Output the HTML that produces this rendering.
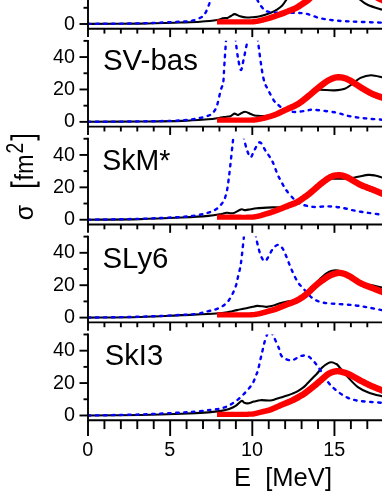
<!DOCTYPE html>
<html><head><meta charset="utf-8"><style>
html,body{margin:0;padding:0;background:#fff;}
body{width:382px;height:494px;overflow:hidden;position:relative;}
svg text{font-family:"Liberation Sans",sans-serif;fill:#000;}
#t{opacity:0.999}
</style></head><body>
<svg width="382" height="494" viewBox="0 0 382 494" style="position:absolute;left:0;top:0">
<rect width="382" height="494" fill="#fff"/>
<clipPath id="c0"><rect x="88.00" y="-57.00" width="300" height="85.80"/></clipPath>
<clipPath id="c1"><rect x="88.00" y="40.87" width="300" height="85.80"/></clipPath>
<clipPath id="c2"><rect x="88.00" y="138.74" width="300" height="85.80"/></clipPath>
<clipPath id="c3"><rect x="88.00" y="236.61" width="300" height="85.80"/></clipPath>
<clipPath id="c4"><rect x="88.00" y="334.48" width="300" height="85.80"/></clipPath>
<g clip-path="url(#c0)" fill="none" stroke-linejoin="round">
<path d="M88.00 23.90 C96.67 23.85 124.67 23.83 140.00 23.60 C155.33 23.37 170.00 22.82 180.00 22.50 C190.00 22.18 193.77 22.12 200.00 21.70 C206.23 21.28 213.62 20.55 217.40 20.00 C221.18 19.45 221.02 18.75 222.70 18.40 C224.38 18.05 226.12 18.30 227.50 17.90 C228.88 17.50 229.80 16.63 231.00 16.00 C232.20 15.37 233.20 14.07 234.70 14.10 C236.20 14.13 237.98 15.63 240.00 16.20 C242.02 16.77 244.63 17.33 246.80 17.50 C248.97 17.67 250.80 17.40 253.00 17.20 C255.20 17.00 257.03 17.03 260.00 16.30 C262.97 15.57 267.97 13.92 270.80 12.80 C273.63 11.68 275.13 10.77 277.00 9.60 C278.87 8.43 280.47 7.40 282.00 5.80 C283.53 4.20 284.87 1.97 286.20 0.00 C287.53 -1.97 289.37 -5.00 290.00 -6.00" stroke="#000" stroke-width="2.1"/>
<path d="M355.50 -6.00 C356.33 -5.00 358.42 -1.83 360.50 0.00 C362.58 1.83 364.42 3.40 368.00 5.00 C371.58 6.60 379.00 8.67 382.00 9.60 C385.00 10.53 385.33 10.43 386.00 10.60" stroke="#000" stroke-width="2.1"/>
<path d="M88.00 23.90 C96.67 23.80 124.67 23.67 140.00 23.30 C155.33 22.93 171.33 22.12 180.00 21.70 C188.67 21.28 188.52 21.50 192.00 20.80 C195.48 20.10 198.90 18.53 200.90 17.50 C202.90 16.47 203.12 15.60 204.00 14.60 C204.88 13.60 205.40 13.07 206.20 11.50 C207.00 9.93 208.10 7.12 208.80 5.20 C209.50 3.28 209.87 1.87 210.40 0.00 C210.93 -1.87 211.73 -5.00 212.00 -6.00" stroke="#0000ff" stroke-linecap="round" stroke-width="2.4" stroke-dasharray="2.5 5.5" stroke-dashoffset="0"/>
<path d="M254.00 -8.00 C254.57 -6.67 256.23 -2.33 257.40 0.00 C258.57 2.33 259.67 4.22 261.00 6.00 C262.33 7.78 263.57 9.62 265.40 10.70 C267.23 11.78 269.57 12.15 272.00 12.50 C274.43 12.85 276.00 12.75 280.00 12.80 C284.00 12.85 291.55 12.62 296.00 12.80 C300.45 12.98 302.70 13.00 306.70 13.90 C310.70 14.80 315.55 17.13 320.00 18.20 C324.45 19.27 329.23 19.80 333.40 20.30 C337.57 20.80 340.57 20.93 345.00 21.20 C349.43 21.47 353.83 21.65 360.00 21.90 C366.17 22.15 377.67 22.55 382.00 22.70 C386.33 22.85 385.33 22.78 386.00 22.80" stroke="#0000ff" stroke-linecap="round" stroke-width="2.4" stroke-dasharray="2.5 5.5" stroke-dashoffset="0"/>
<path d="M217.00 24.50 L217.88 24.50 L218.99 24.50 L220.30 24.50 L221.78 24.50 L223.38 24.50 L225.06 24.50 L226.80 24.50 L228.56 24.50 L230.29 24.50 L231.97 24.50 L233.55 24.50 L235.00 24.50 L236.38 24.50 L237.77 24.51 L239.16 24.51 L240.54 24.52 L241.91 24.53 L243.24 24.53 L244.53 24.54 L245.78 24.55 L246.96 24.56 L248.08 24.56 L249.11 24.56 L250.06 24.55 L250.91 24.54 L251.66 24.52 L252.33 24.49 L252.93 24.46 L253.47 24.42 L253.96 24.38 L254.41 24.34 L254.83 24.29 L255.22 24.24 L255.59 24.19 L255.97 24.14 L256.36 24.10 L256.77 24.05 L257.16 23.99 L257.52 23.94 L257.86 23.88 L258.18 23.83 L258.50 23.76 L258.82 23.70 L259.14 23.63 L259.47 23.55 L259.82 23.47 L260.21 23.39 L260.64 23.29 L261.12 23.18 L261.65 23.06 L262.21 22.93 L262.80 22.79 L263.41 22.65 L264.03 22.50 L264.67 22.34 L265.31 22.18 L265.94 22.02 L266.57 21.86 L267.19 21.69 L267.79 21.53 L268.36 21.37 L268.91 21.21 L269.45 21.05 L269.99 20.89 L270.52 20.73 L271.05 20.56 L271.58 20.40 L272.12 20.22 L272.67 20.04 L273.24 19.85 L273.84 19.66 L274.46 19.45 L275.11 19.23 L275.79 19.00 L276.49 18.76 L277.20 18.51 L277.93 18.25 L278.67 17.99 L279.42 17.72 L280.16 17.46 L280.90 17.19 L281.63 16.93 L282.35 16.67 L283.06 16.41 L283.76 16.16 L284.46 15.90 L285.16 15.64 L285.87 15.38 L286.57 15.12 L287.26 14.86 L287.94 14.60 L288.62 14.34 L289.28 14.09 L289.92 13.84 L290.54 13.60 L291.14 13.37 L291.70 13.16 L292.23 12.96 L292.75 12.77 L293.26 12.58 L293.76 12.39 L294.27 12.20 L294.78 12.00 L295.30 11.79 L295.82 11.57 L296.36 11.33 L296.91 11.07 L297.47 10.79 L298.03 10.50 L298.59 10.19 L299.14 9.87 L299.68 9.54 L300.21 9.21 L300.74 8.88 L301.26 8.54 L301.78 8.20 L302.29 7.86 L302.79 7.53 L303.28 7.19 L303.77 6.86 L304.27 6.54 L304.77 6.21 L305.28 5.87 L305.80 5.53 L306.33 5.18 L306.86 4.82 L307.39 4.46 L307.93 4.08 L308.47 3.69 L309.00 3.29 L309.53 2.88 L310.06 2.45 L310.60 1.99 L311.13 1.49 L311.67 0.99 L312.19 0.47 L312.69 -0.04 L313.18 -0.54 L313.64 -1.03 L314.07 -1.48 L314.46 -1.89 L314.79 -2.25 L315.07 -2.54 L315.29 -2.76 L310.71 -7.24 L310.46 -6.97 L310.14 -6.65 L309.79 -6.28 L309.41 -5.87 L309.00 -5.43 L308.57 -4.98 L308.12 -4.52 L307.66 -4.06 L307.21 -3.61 L306.76 -3.18 L306.34 -2.79 L305.94 -2.45 L305.54 -2.12 L305.12 -1.79 L304.68 -1.46 L304.22 -1.13 L303.75 -0.80 L303.27 -0.47 L302.77 -0.14 L302.27 0.19 L301.77 0.52 L301.26 0.86 L300.74 1.20 L300.23 1.54 L299.72 1.88 L299.21 2.22 L298.71 2.55 L298.22 2.88 L297.74 3.21 L297.26 3.53 L296.79 3.85 L296.32 4.15 L295.86 4.43 L295.41 4.71 L294.97 4.96 L294.53 5.21 L294.11 5.43 L293.69 5.64 L293.27 5.83 L292.85 6.02 L292.42 6.20 L291.98 6.39 L291.52 6.57 L291.04 6.76 L290.53 6.96 L290.00 7.17 L289.44 7.39 L288.86 7.63 L288.27 7.87 L287.66 8.12 L287.03 8.38 L286.38 8.64 L285.72 8.90 L285.05 9.17 L284.38 9.44 L283.69 9.71 L283.00 9.98 L282.31 10.25 L281.63 10.52 L280.94 10.79 L280.25 11.06 L279.54 11.33 L278.83 11.60 L278.10 11.88 L277.37 12.16 L276.64 12.44 L275.92 12.71 L275.20 12.98 L274.51 13.23 L273.83 13.48 L273.17 13.72 L272.54 13.95 L271.94 14.17 L271.37 14.37 L270.82 14.56 L270.29 14.75 L269.77 14.93 L269.27 15.10 L268.77 15.26 L268.27 15.43 L267.77 15.59 L267.27 15.75 L266.75 15.91 L266.21 16.07 L265.66 16.24 L265.08 16.40 L264.49 16.57 L263.88 16.74 L263.27 16.90 L262.65 17.07 L262.05 17.23 L261.46 17.38 L260.89 17.53 L260.35 17.66 L259.84 17.79 L259.36 17.91 L258.93 18.02 L258.54 18.12 L258.20 18.20 L257.90 18.28 L257.63 18.34 L257.37 18.40 L257.13 18.45 L256.88 18.50 L256.62 18.55 L256.34 18.60 L256.02 18.65 L255.64 18.70 L255.23 18.76 L254.85 18.82 L254.48 18.88 L254.14 18.93 L253.78 18.97 L253.41 19.02 L253.01 19.06 L252.55 19.10 L252.03 19.14 L251.43 19.18 L250.73 19.21 L249.94 19.25 L249.04 19.27 L248.03 19.30 L246.94 19.31 L245.78 19.33 L244.55 19.34 L243.26 19.33 L241.93 19.33 L240.57 19.32 L239.18 19.31 L237.79 19.31 L236.39 19.30 L235.00 19.30 L233.55 19.30 L231.97 19.30 L230.29 19.30 L228.56 19.30 L226.80 19.30 L225.06 19.30 L223.38 19.30 L221.78 19.30 L220.30 19.30 L218.99 19.30 L217.88 19.30 L217.00 19.30Z" fill="#ff0000" stroke="none"/>
<path d="M372.57 -1.14 L372.97 -0.94 L373.49 -0.68 L374.10 -0.37 L374.79 -0.03 L375.54 0.35 L376.32 0.74 L377.11 1.13 L377.90 1.53 L378.66 1.91 L379.37 2.26 L380.02 2.59 L380.57 2.86 L381.06 3.11 L381.51 3.33 L381.94 3.55 L382.35 3.75 L382.72 3.94 L383.07 4.11 L383.39 4.27 L383.68 4.42 L383.94 4.55 L384.18 4.67 L384.39 4.77 L384.57 4.86 L387.43 -0.86 L387.25 -0.95 L387.04 -1.06 L386.81 -1.17 L386.54 -1.31 L386.25 -1.45 L385.93 -1.61 L385.58 -1.79 L385.21 -1.97 L384.81 -2.17 L384.38 -2.39 L383.92 -2.62 L383.43 -2.86 L382.88 -3.14 L382.24 -3.46 L381.52 -3.82 L380.76 -4.20 L379.98 -4.59 L379.18 -4.99 L378.40 -5.38 L377.65 -5.75 L376.96 -6.10 L376.35 -6.40 L375.83 -6.66 L375.43 -6.86Z" fill="#ff0000" stroke="none"/>
</g>
<g stroke="#000" stroke-width="1.90" fill="none">
<line x1="88.00" y1="0.00" x2="88.00" y2="29.75"/>
<line x1="88.00" y1="28.80" x2="382" y2="28.80"/>
<line x1="79.50" y1="24.00" x2="88.00" y2="24.00"/>
<line x1="83.50" y1="7.80" x2="88.00" y2="7.80"/>
<line x1="88.00" y1="28.80" x2="88.00" y2="37.10"/>
<line x1="104.43" y1="28.80" x2="104.43" y2="33.60"/>
<line x1="120.86" y1="28.80" x2="120.86" y2="33.60"/>
<line x1="137.29" y1="28.80" x2="137.29" y2="33.60"/>
<line x1="153.72" y1="28.80" x2="153.72" y2="33.60"/>
<line x1="170.15" y1="28.80" x2="170.15" y2="37.10"/>
<line x1="186.58" y1="28.80" x2="186.58" y2="33.60"/>
<line x1="203.01" y1="28.80" x2="203.01" y2="33.60"/>
<line x1="219.44" y1="28.80" x2="219.44" y2="33.60"/>
<line x1="235.87" y1="28.80" x2="235.87" y2="33.60"/>
<line x1="252.30" y1="28.80" x2="252.30" y2="37.10"/>
<line x1="268.73" y1="28.80" x2="268.73" y2="33.60"/>
<line x1="285.16" y1="28.80" x2="285.16" y2="33.60"/>
<line x1="301.59" y1="28.80" x2="301.59" y2="33.60"/>
<line x1="318.02" y1="28.80" x2="318.02" y2="33.60"/>
<line x1="334.45" y1="28.80" x2="334.45" y2="37.10"/>
<line x1="350.88" y1="28.80" x2="350.88" y2="33.60"/>
<line x1="367.31" y1="28.80" x2="367.31" y2="33.60"/>
</g>
<g clip-path="url(#c1)" fill="none" stroke-linejoin="round">
<path d="M88.00 121.80 C96.67 121.75 124.33 121.65 140.00 121.50 C155.67 121.35 170.63 121.27 182.00 120.90 C193.37 120.53 202.37 119.73 208.20 119.30 C214.03 118.87 214.38 118.68 217.00 118.30 C219.62 117.92 221.67 117.35 223.90 117.00 C226.13 116.65 228.65 116.77 230.40 116.20 C232.15 115.63 233.08 113.82 234.40 113.60 C235.72 113.38 236.57 115.22 238.30 114.90 C240.03 114.58 242.62 111.80 244.80 111.70 C246.98 111.60 249.43 113.63 251.40 114.30 C253.37 114.97 253.50 115.50 256.60 115.70 C259.70 115.90 265.27 116.45 270.00 115.50 C274.73 114.55 280.00 112.17 285.00 110.00 C290.00 107.83 295.83 105.00 300.00 102.50 C304.17 100.00 307.33 96.95 310.00 95.00 C312.67 93.05 314.33 91.67 316.00 90.80 C317.67 89.93 316.93 89.87 320.00 89.80 C323.07 89.73 330.27 90.57 334.40 90.40 C338.53 90.23 341.75 89.93 344.80 88.80 C347.85 87.67 350.08 85.42 352.70 83.60 C355.32 81.78 357.45 79.30 360.50 77.90 C363.55 76.50 367.42 75.30 371.00 75.20 C374.58 75.10 379.50 76.75 382.00 77.30 C384.50 77.85 385.33 78.30 386.00 78.50" stroke="#000" stroke-width="2.1"/>
<path d="M88.00 121.80 C96.67 121.73 124.33 121.63 140.00 121.40 C155.67 121.17 171.97 120.98 182.00 120.40 C192.03 119.82 195.77 118.70 200.20 117.90 C204.63 117.10 206.63 116.32 208.60 115.60 C210.57 114.88 210.97 114.47 212.00 113.60 C213.03 112.73 214.03 111.58 214.80 110.40 C215.57 109.22 216.07 107.90 216.60 106.50 C217.13 105.10 217.45 104.15 218.00 102.00 C218.55 99.85 219.30 96.00 219.90 93.60 C220.50 91.20 221.12 89.03 221.60 87.60 C222.08 86.17 222.48 86.27 222.80 85.00 C223.12 83.73 223.23 83.47 223.50 80.00 C223.77 76.53 223.98 70.77 224.40 64.20 C224.82 57.63 225.62 46.30 226.00 40.60 C226.38 34.90 226.58 31.77 226.70 30.00" stroke="#0000ff" stroke-linecap="round" stroke-width="2.4" stroke-dasharray="2.5 5.5" stroke-dashoffset="0"/>
<path d="M235.00 30.00 C235.12 31.77 235.20 35.93 235.70 40.60 C236.20 45.27 237.13 53.12 238.00 58.00 C238.87 62.88 239.98 69.57 240.90 69.90 C241.82 70.23 242.42 64.88 243.50 60.00 C244.58 55.12 246.57 45.60 247.40 40.60 C248.23 35.60 248.32 31.77 248.50 30.00" stroke="#0000ff" stroke-linecap="round" stroke-width="2.4" stroke-dasharray="2.5 5.5" stroke-dashoffset="0"/>
<path d="M257.00 30.00 C257.15 31.77 256.87 32.72 257.90 40.60 C258.93 48.48 261.45 69.00 263.20 77.30 C264.95 85.60 266.58 86.48 268.40 90.40 C270.22 94.32 272.67 98.62 274.10 100.80 C275.53 102.98 276.08 102.62 277.00 103.50 C277.92 104.38 278.43 105.13 279.60 106.10 C280.77 107.07 282.25 108.42 284.00 109.30 C285.75 110.18 288.03 110.97 290.10 111.40 C292.17 111.83 293.75 112.00 296.40 111.90 C299.05 111.80 303.17 111.15 306.00 110.80 C308.83 110.45 308.67 109.55 313.40 109.80 C318.13 110.05 328.30 111.22 334.40 112.30 C340.50 113.38 344.77 115.28 350.00 116.30 C355.23 117.32 360.47 117.83 365.80 118.40 C371.13 118.97 378.63 119.45 382.00 119.70 C385.37 119.95 385.33 119.87 386.00 119.90" stroke="#0000ff" stroke-linecap="round" stroke-width="2.4" stroke-dasharray="2.5 5.5" stroke-dashoffset="0"/>
<path d="M217.00 122.70 L217.87 122.70 L218.96 122.70 L220.24 122.70 L221.68 122.70 L223.24 122.71 L224.89 122.71 L226.61 122.71 L228.36 122.71 L230.10 122.71 L231.81 122.71 L233.46 122.70 L235.01 122.70 L236.53 122.70 L238.13 122.69 L239.77 122.69 L241.43 122.69 L243.08 122.68 L244.72 122.67 L246.30 122.68 L247.82 122.69 L249.25 122.69 L250.56 122.70 L251.74 122.69 L252.76 122.68 L253.60 122.67 L254.28 122.66 L254.84 122.64 L255.29 122.61 L255.68 122.58 L256.02 122.55 L256.33 122.50 L256.58 122.45 L256.77 122.41 L256.93 122.38 L257.13 122.34 L257.43 122.30 L257.83 122.24 L258.25 122.17 L258.68 122.10 L259.11 122.03 L259.54 121.95 L259.98 121.86 L260.42 121.78 L260.86 121.69 L261.30 121.60 L261.74 121.51 L262.18 121.41 L262.63 121.31 L263.08 121.21 L263.55 121.11 L264.02 121.00 L264.49 120.88 L264.96 120.77 L265.44 120.65 L265.91 120.53 L266.38 120.41 L266.84 120.29 L267.29 120.17 L267.74 120.05 L268.17 119.94 L268.59 119.82 L269.01 119.71 L269.42 119.60 L269.82 119.48 L270.22 119.37 L270.61 119.25 L271.00 119.14 L271.39 119.02 L271.77 118.90 L272.15 118.79 L272.53 118.67 L272.90 118.55 L273.26 118.44 L273.60 118.33 L273.94 118.22 L274.28 118.11 L274.63 118.00 L274.98 117.89 L275.34 117.77 L275.70 117.64 L276.09 117.50 L276.49 117.35 L276.90 117.19 L277.34 117.01 L277.80 116.82 L278.29 116.61 L278.78 116.39 L279.29 116.16 L279.80 115.93 L280.32 115.69 L280.84 115.45 L281.35 115.21 L281.86 114.98 L282.35 114.75 L282.83 114.53 L283.29 114.31 L283.73 114.11 L284.16 113.91 L284.56 113.72 L284.94 113.53 L285.32 113.35 L285.69 113.18 L286.07 113.00 L286.45 112.81 L286.86 112.62 L287.29 112.42 L287.76 112.21 L288.27 111.98 L288.82 111.74 L289.42 111.49 L290.07 111.21 L290.76 110.93 L291.48 110.63 L292.22 110.33 L292.96 110.01 L293.71 109.70 L294.45 109.38 L295.17 109.05 L295.87 108.73 L296.53 108.40 L297.13 108.10 L297.69 107.80 L298.23 107.52 L298.75 107.23 L299.26 106.94 L299.76 106.64 L300.26 106.34 L300.76 106.03 L301.26 105.70 L301.77 105.36 L302.30 105.00 L302.86 104.61 L303.45 104.18 L304.05 103.73 L304.67 103.26 L305.29 102.78 L305.92 102.29 L306.55 101.78 L307.18 101.28 L307.80 100.77 L308.43 100.26 L309.04 99.75 L309.64 99.26 L310.24 98.77 L310.83 98.28 L311.43 97.78 L312.02 97.28 L312.60 96.78 L313.18 96.28 L313.75 95.78 L314.32 95.29 L314.88 94.81 L315.43 94.33 L315.98 93.86 L316.51 93.41 L317.05 92.96 L317.59 92.51 L318.12 92.07 L318.65 91.63 L319.17 91.20 L319.69 90.77 L320.20 90.36 L320.71 89.94 L321.21 89.53 L321.72 89.13 L322.22 88.73 L322.73 88.34 L323.25 87.94 L323.78 87.54 L324.31 87.13 L324.85 86.72 L325.39 86.31 L325.92 85.91 L326.45 85.52 L326.97 85.14 L327.49 84.78 L327.98 84.43 L328.46 84.11 L328.92 83.81 L329.36 83.53 L329.79 83.28 L330.21 83.04 L330.62 82.82 L331.02 82.61 L331.42 82.41 L331.81 82.23 L332.19 82.06 L332.57 81.89 L332.95 81.74 L333.33 81.59 L333.70 81.45 L334.08 81.31 L334.45 81.18 L334.79 81.06 L335.11 80.96 L335.41 80.87 L335.68 80.79 L335.95 80.73 L336.21 80.67 L336.47 80.62 L336.73 80.58 L337.02 80.54 L337.32 80.52 L337.66 80.50 L338.04 80.48 L338.44 80.47 L338.85 80.47 L339.26 80.47 L339.68 80.49 L340.10 80.51 L340.52 80.55 L340.94 80.59 L341.36 80.65 L341.78 80.72 L342.19 80.80 L342.62 80.90 L343.06 81.02 L343.51 81.15 L343.95 81.29 L344.39 81.44 L344.84 81.60 L345.30 81.78 L345.77 81.98 L346.26 82.20 L346.77 82.44 L347.31 82.70 L347.88 83.00 L348.46 83.31 L349.08 83.65 L349.74 84.04 L350.46 84.48 L351.20 84.96 L351.98 85.46 L352.77 85.98 L353.57 86.51 L354.37 87.04 L355.16 87.56 L355.93 88.07 L356.68 88.56 L357.39 89.01 L358.05 89.42 L358.67 89.81 L359.27 90.18 L359.84 90.54 L360.41 90.89 L360.97 91.24 L361.52 91.58 L362.08 91.92 L362.64 92.25 L363.22 92.59 L363.81 92.94 L364.42 93.28 L365.03 93.63 L365.64 93.97 L366.26 94.33 L366.89 94.68 L367.53 95.04 L368.19 95.39 L368.85 95.74 L369.52 96.09 L370.20 96.44 L370.90 96.78 L371.60 97.11 L372.32 97.43 L373.07 97.75 L373.85 98.06 L374.64 98.36 L375.43 98.64 L376.22 98.92 L377.00 99.19 L377.76 99.44 L378.49 99.68 L379.18 99.91 L379.82 100.13 L380.40 100.33 L380.92 100.51 L381.40 100.69 L381.86 100.86 L382.29 101.01 L382.68 101.16 L383.05 101.30 L383.39 101.43 L383.70 101.55 L383.98 101.66 L384.24 101.75 L384.47 101.84 L384.69 101.92 L384.87 101.99 L387.13 96.01 L386.96 95.94 L386.76 95.86 L386.53 95.78 L386.27 95.68 L385.98 95.57 L385.66 95.45 L385.31 95.31 L384.93 95.17 L384.52 95.02 L384.08 94.85 L383.60 94.68 L383.08 94.49 L382.50 94.28 L381.87 94.07 L381.20 93.84 L380.51 93.61 L379.79 93.37 L379.05 93.13 L378.31 92.87 L377.58 92.62 L376.86 92.35 L376.16 92.09 L375.50 91.83 L374.88 91.57 L374.27 91.29 L373.66 91.01 L373.05 90.71 L372.44 90.40 L371.83 90.08 L371.23 89.76 L370.62 89.43 L370.01 89.09 L369.40 88.75 L368.79 88.41 L368.18 88.06 L367.58 87.72 L367.00 87.39 L366.45 87.07 L365.91 86.75 L365.38 86.43 L364.85 86.11 L364.32 85.79 L363.78 85.45 L363.23 85.11 L362.66 84.75 L362.07 84.38 L361.45 83.99 L360.81 83.59 L360.14 83.17 L359.43 82.71 L358.68 82.22 L357.91 81.70 L357.11 81.17 L356.29 80.63 L355.47 80.10 L354.66 79.57 L353.85 79.06 L353.05 78.57 L352.28 78.11 L351.54 77.69 L350.84 77.32 L350.18 76.99 L349.54 76.67 L348.92 76.38 L348.31 76.11 L347.70 75.85 L347.11 75.62 L346.52 75.40 L345.94 75.21 L345.36 75.02 L344.78 74.86 L344.18 74.70 L343.56 74.55 L342.94 74.43 L342.33 74.32 L341.72 74.24 L341.12 74.17 L340.54 74.13 L339.97 74.09 L339.41 74.07 L338.87 74.07 L338.34 74.07 L337.84 74.08 L337.34 74.10 L336.84 74.14 L336.34 74.18 L335.86 74.24 L335.39 74.31 L334.93 74.40 L334.48 74.50 L334.04 74.61 L333.61 74.73 L333.19 74.86 L332.77 74.99 L332.35 75.14 L331.92 75.29 L331.48 75.45 L331.02 75.62 L330.56 75.80 L330.09 75.99 L329.61 76.20 L329.13 76.42 L328.63 76.65 L328.13 76.90 L327.62 77.17 L327.10 77.45 L326.58 77.75 L326.04 78.07 L325.49 78.41 L324.93 78.77 L324.37 79.15 L323.80 79.54 L323.24 79.94 L322.67 80.36 L322.11 80.77 L321.54 81.19 L320.99 81.62 L320.43 82.03 L319.89 82.45 L319.35 82.86 L318.81 83.28 L318.28 83.69 L317.74 84.12 L317.21 84.54 L316.68 84.97 L316.15 85.39 L315.63 85.83 L315.10 86.26 L314.57 86.70 L314.03 87.14 L313.50 87.59 L312.95 88.04 L312.39 88.51 L311.82 88.99 L311.26 89.48 L310.69 89.96 L310.13 90.45 L309.56 90.94 L309.00 91.43 L308.43 91.92 L307.86 92.41 L307.30 92.89 L306.73 93.36 L306.16 93.83 L305.58 94.31 L304.98 94.81 L304.37 95.31 L303.76 95.81 L303.15 96.30 L302.54 96.79 L301.94 97.27 L301.35 97.74 L300.77 98.19 L300.21 98.61 L299.66 99.02 L299.14 99.39 L298.64 99.75 L298.16 100.08 L297.71 100.39 L297.28 100.68 L296.86 100.96 L296.45 101.22 L296.03 101.47 L295.61 101.73 L295.17 101.98 L294.70 102.24 L294.20 102.52 L293.67 102.80 L293.12 103.08 L292.51 103.38 L291.87 103.68 L291.19 103.99 L290.49 104.31 L289.77 104.62 L289.05 104.94 L288.34 105.25 L287.65 105.55 L286.97 105.85 L286.33 106.14 L285.73 106.42 L285.19 106.67 L284.70 106.91 L284.24 107.13 L283.81 107.34 L283.41 107.54 L283.02 107.74 L282.65 107.92 L282.28 108.11 L281.91 108.30 L281.53 108.48 L281.14 108.68 L280.71 108.89 L280.25 109.11 L279.77 109.35 L279.28 109.59 L278.78 109.83 L278.28 110.08 L277.78 110.32 L277.28 110.56 L276.80 110.79 L276.33 111.01 L275.88 111.22 L275.46 111.42 L275.06 111.59 L274.69 111.75 L274.34 111.89 L274.01 112.02 L273.69 112.15 L273.38 112.26 L273.07 112.37 L272.77 112.48 L272.46 112.59 L272.14 112.70 L271.81 112.81 L271.46 112.93 L271.10 113.05 L270.74 113.17 L270.38 113.29 L270.02 113.41 L269.67 113.53 L269.30 113.64 L268.94 113.76 L268.57 113.88 L268.19 113.99 L267.81 114.11 L267.43 114.23 L267.03 114.34 L266.63 114.46 L266.22 114.58 L265.79 114.70 L265.36 114.83 L264.91 114.95 L264.46 115.08 L264.01 115.20 L263.56 115.32 L263.11 115.44 L262.67 115.56 L262.23 115.67 L261.79 115.78 L261.37 115.89 L260.95 115.99 L260.53 116.09 L260.11 116.19 L259.70 116.28 L259.29 116.37 L258.88 116.46 L258.48 116.54 L258.09 116.63 L257.70 116.70 L257.32 116.77 L256.95 116.84 L256.57 116.90 L256.19 116.97 L255.86 117.03 L255.61 117.09 L255.44 117.13 L255.35 117.15 L255.27 117.17 L255.13 117.19 L254.91 117.21 L254.56 117.23 L254.08 117.26 L253.45 117.29 L252.64 117.32 L251.65 117.35 L250.50 117.38 L249.20 117.40 L247.79 117.43 L246.28 117.45 L244.70 117.48 L243.07 117.48 L241.41 117.49 L239.75 117.49 L238.12 117.49 L236.52 117.50 L234.99 117.50 L233.45 117.50 L231.81 117.51 L230.10 117.51 L228.36 117.51 L226.61 117.51 L224.90 117.51 L223.24 117.51 L221.68 117.50 L220.24 117.50 L218.96 117.50 L217.87 117.50 L217.00 117.50Z" fill="#ff0000" stroke="none"/>
</g>
<g stroke="#000" stroke-width="1.90" fill="none">
<line x1="88.00" y1="39.92" x2="88.00" y2="127.62"/>
<line x1="88.00" y1="126.67" x2="382" y2="126.67"/>
<line x1="79.50" y1="121.87" x2="88.00" y2="121.87"/>
<line x1="83.50" y1="105.67" x2="88.00" y2="105.67"/>
<line x1="79.50" y1="89.47" x2="88.00" y2="89.47"/>
<line x1="83.50" y1="73.27" x2="88.00" y2="73.27"/>
<line x1="79.50" y1="57.07" x2="88.00" y2="57.07"/>
<line x1="83.50" y1="40.87" x2="88.00" y2="40.87"/>
<line x1="88.00" y1="126.67" x2="88.00" y2="134.97"/>
<line x1="104.43" y1="126.67" x2="104.43" y2="131.47"/>
<line x1="120.86" y1="126.67" x2="120.86" y2="131.47"/>
<line x1="137.29" y1="126.67" x2="137.29" y2="131.47"/>
<line x1="153.72" y1="126.67" x2="153.72" y2="131.47"/>
<line x1="170.15" y1="126.67" x2="170.15" y2="134.97"/>
<line x1="186.58" y1="126.67" x2="186.58" y2="131.47"/>
<line x1="203.01" y1="126.67" x2="203.01" y2="131.47"/>
<line x1="219.44" y1="126.67" x2="219.44" y2="131.47"/>
<line x1="235.87" y1="126.67" x2="235.87" y2="131.47"/>
<line x1="252.30" y1="126.67" x2="252.30" y2="134.97"/>
<line x1="268.73" y1="126.67" x2="268.73" y2="131.47"/>
<line x1="285.16" y1="126.67" x2="285.16" y2="131.47"/>
<line x1="301.59" y1="126.67" x2="301.59" y2="131.47"/>
<line x1="318.02" y1="126.67" x2="318.02" y2="131.47"/>
<line x1="334.45" y1="126.67" x2="334.45" y2="134.97"/>
<line x1="350.88" y1="126.67" x2="350.88" y2="131.47"/>
<line x1="367.31" y1="126.67" x2="367.31" y2="131.47"/>
</g>
<g clip-path="url(#c2)" fill="none" stroke-linejoin="round">
<path d="M88.00 219.70 C96.67 219.60 124.33 219.47 140.00 219.10 C155.67 218.73 170.63 218.03 182.00 217.50 C193.37 216.97 201.65 216.48 208.20 215.90 C214.75 215.32 218.25 214.53 221.30 214.00 C224.35 213.47 224.55 212.83 226.50 212.70 C228.45 212.57 230.60 213.75 233.00 213.20 C235.40 212.65 239.00 209.92 240.90 209.40 C242.80 208.88 243.13 210.07 244.40 210.10 C245.67 210.13 246.40 209.90 248.50 209.60 C250.60 209.30 253.85 208.63 257.00 208.30 C260.15 207.97 264.23 207.77 267.40 207.60 C270.57 207.43 273.57 207.42 276.00 207.30 C278.43 207.18 278.83 207.62 282.00 206.90 C285.17 206.18 290.67 205.15 295.00 203.00 C299.33 200.85 304.17 196.92 308.00 194.00 C311.83 191.08 315.17 187.75 318.00 185.50 C320.83 183.25 322.72 181.62 325.00 180.50 C327.28 179.38 327.97 179.12 331.70 178.80 C335.43 178.48 343.02 178.93 347.40 178.60 C351.78 178.27 354.50 177.42 358.00 176.80 C361.50 176.18 365.57 175.12 368.40 174.90 C371.23 174.68 372.73 175.05 375.00 175.50 C377.27 175.95 380.17 177.02 382.00 177.60 C383.83 178.18 385.33 178.77 386.00 179.00" stroke="#000" stroke-width="2.1"/>
<path d="M88.00 219.70 C96.67 219.55 124.33 219.27 140.00 218.80 C155.67 218.33 172.38 217.52 182.00 216.90 C191.62 216.28 193.30 215.82 197.70 215.10 C202.10 214.38 205.40 213.53 208.40 212.60 C211.40 211.67 213.62 210.80 215.70 209.50 C217.78 208.20 219.50 206.37 220.90 204.80 C222.30 203.23 223.22 201.93 224.10 200.10 C224.98 198.27 225.60 196.07 226.20 193.80 C226.80 191.53 227.27 189.12 227.70 186.50 C228.13 183.88 228.43 181.02 228.80 178.10 C229.17 175.18 229.15 175.75 229.90 169.00 C230.65 162.25 232.57 144.43 233.30 137.60 C234.03 130.77 234.13 129.60 234.30 128.00" stroke="#0000ff" stroke-linecap="round" stroke-width="2.4" stroke-dasharray="2.5 5.5" stroke-dashoffset="0"/>
<path d="M243.00 128.00 C243.13 129.60 243.13 133.93 243.80 137.60 C244.47 141.27 245.87 146.72 247.00 150.00 C248.13 153.28 249.43 157.13 250.60 157.30 C251.77 157.47 252.48 153.50 254.00 151.00 C255.52 148.50 257.73 142.27 259.70 142.30 C261.67 142.33 263.70 148.05 265.80 151.20 C267.90 154.35 270.35 157.35 272.30 161.20 C274.25 165.05 275.88 170.67 277.50 174.30 C279.12 177.93 280.58 180.40 282.00 183.00 C283.42 185.60 284.03 187.23 286.00 189.90 C287.97 192.57 291.80 196.93 293.80 199.00 C295.80 201.07 296.47 201.33 298.00 202.30 C299.53 203.27 300.43 204.03 303.00 204.80 C305.57 205.57 309.05 206.63 313.40 206.90 C317.75 207.17 324.30 206.25 329.10 206.40 C333.90 206.55 337.83 207.07 342.20 207.80 C346.57 208.53 350.93 209.95 355.30 210.80 C359.67 211.65 363.95 212.25 368.40 212.90 C372.85 213.55 379.07 214.35 382.00 214.70 C384.93 215.05 385.33 214.95 386.00 215.00" stroke="#0000ff" stroke-linecap="round" stroke-width="2.4" stroke-dasharray="2.5 5.5" stroke-dashoffset="0"/>
<path d="M217.00 219.80 L217.88 219.80 L218.99 219.80 L220.30 219.80 L221.78 219.80 L223.38 219.80 L225.06 219.80 L226.80 219.80 L228.56 219.80 L230.29 219.80 L231.97 219.80 L233.55 219.80 L235.00 219.80 L236.38 219.80 L237.77 219.81 L239.16 219.81 L240.54 219.82 L241.90 219.83 L243.24 219.84 L244.53 219.84 L245.78 219.85 L246.96 219.86 L248.08 219.87 L249.12 219.87 L250.07 219.85 L250.92 219.83 L251.68 219.81 L252.35 219.77 L252.95 219.73 L253.49 219.69 L253.98 219.64 L254.44 219.58 L254.86 219.52 L255.25 219.46 L255.63 219.41 L256.01 219.35 L256.42 219.29 L256.87 219.22 L257.30 219.15 L257.72 219.08 L258.12 219.00 L258.51 218.93 L258.90 218.84 L259.27 218.76 L259.65 218.67 L260.03 218.58 L260.41 218.48 L260.81 218.38 L261.23 218.27 L261.68 218.15 L262.15 218.02 L262.62 217.88 L263.10 217.74 L263.59 217.60 L264.07 217.45 L264.55 217.30 L265.02 217.15 L265.49 217.01 L265.95 216.87 L266.40 216.73 L266.83 216.61 L267.25 216.48 L267.67 216.36 L268.08 216.25 L268.50 216.13 L268.91 216.02 L269.33 215.90 L269.75 215.78 L270.17 215.66 L270.60 215.54 L271.03 215.41 L271.46 215.28 L271.90 215.14 L272.33 215.00 L272.76 214.86 L273.17 214.72 L273.59 214.58 L274.01 214.44 L274.43 214.29 L274.85 214.14 L275.27 213.99 L275.70 213.84 L276.14 213.68 L276.59 213.51 L277.05 213.34 L277.53 213.17 L278.01 212.98 L278.50 212.80 L278.99 212.61 L279.48 212.41 L279.99 212.22 L280.50 212.02 L281.01 211.81 L281.53 211.61 L282.05 211.40 L282.58 211.20 L283.12 210.99 L283.67 210.77 L284.25 210.55 L284.83 210.32 L285.43 210.09 L286.03 209.85 L286.63 209.62 L287.23 209.38 L287.83 209.15 L288.42 208.92 L289.00 208.69 L289.57 208.48 L290.11 208.27 L290.64 208.08 L291.16 207.89 L291.68 207.71 L292.21 207.52 L292.74 207.34 L293.27 207.16 L293.79 206.97 L294.32 206.78 L294.84 206.59 L295.36 206.39 L295.88 206.19 L296.38 205.97 L296.86 205.76 L297.32 205.55 L297.76 205.33 L298.18 205.12 L298.59 204.91 L298.98 204.69 L299.36 204.48 L299.73 204.27 L300.10 204.06 L300.45 203.85 L300.81 203.64 L301.17 203.43 L301.54 203.20 L301.90 202.97 L302.26 202.74 L302.61 202.51 L302.95 202.28 L303.29 202.05 L303.63 201.82 L303.96 201.59 L304.30 201.35 L304.64 201.11 L304.98 200.87 L305.34 200.62 L305.70 200.36 L306.08 200.10 L306.46 199.83 L306.85 199.56 L307.25 199.27 L307.66 198.98 L308.07 198.69 L308.49 198.39 L308.91 198.08 L309.33 197.77 L309.75 197.45 L310.17 197.12 L310.58 196.80 L311.00 196.46 L311.42 196.13 L311.83 195.79 L312.24 195.44 L312.65 195.10 L313.06 194.75 L313.47 194.41 L313.88 194.06 L314.28 193.72 L314.68 193.37 L315.08 193.03 L315.49 192.68 L315.92 192.31 L316.34 191.94 L316.76 191.57 L317.18 191.20 L317.60 190.83 L318.01 190.47 L318.41 190.11 L318.80 189.77 L319.18 189.44 L319.54 189.13 L319.89 188.83 L320.21 188.55 L320.51 188.29 L320.78 188.06 L321.03 187.84 L321.26 187.64 L321.49 187.45 L321.72 187.25 L321.97 187.05 L322.24 186.84 L322.53 186.60 L322.87 186.33 L323.26 186.03 L323.72 185.67 L324.22 185.28 L324.76 184.86 L325.32 184.43 L325.90 183.97 L326.50 183.52 L327.09 183.07 L327.68 182.63 L328.24 182.22 L328.78 181.83 L329.28 181.49 L329.74 181.19 L330.17 180.92 L330.58 180.66 L330.98 180.43 L331.36 180.22 L331.72 180.02 L332.06 179.85 L332.40 179.68 L332.73 179.53 L333.05 179.40 L333.37 179.27 L333.69 179.15 L334.01 179.04 L334.30 178.94 L334.58 178.87 L334.86 178.80 L335.13 178.74 L335.41 178.70 L335.70 178.65 L336.00 178.62 L336.31 178.59 L336.63 178.56 L336.96 178.54 L337.31 178.52 L337.67 178.50 L338.01 178.48 L338.34 178.47 L338.68 178.46 L339.01 178.46 L339.33 178.46 L339.66 178.47 L339.98 178.49 L340.29 178.51 L340.59 178.54 L340.89 178.57 L341.17 178.61 L341.44 178.65 L341.70 178.70 L341.95 178.76 L342.21 178.82 L342.46 178.89 L342.73 178.98 L342.99 179.06 L343.27 179.16 L343.55 179.27 L343.85 179.38 L344.15 179.50 L344.46 179.63 L344.77 179.75 L345.07 179.88 L345.35 180.00 L345.63 180.13 L345.92 180.26 L346.20 180.40 L346.49 180.55 L346.79 180.70 L347.10 180.86 L347.41 181.03 L347.74 181.21 L348.09 181.40 L348.44 181.59 L348.79 181.79 L349.14 182.00 L349.52 182.22 L349.91 182.46 L350.31 182.71 L350.73 182.96 L351.15 183.22 L351.59 183.49 L352.03 183.76 L352.49 184.04 L352.95 184.31 L353.40 184.57 L353.84 184.83 L354.28 185.08 L354.72 185.33 L355.17 185.59 L355.63 185.85 L356.10 186.11 L356.57 186.38 L357.06 186.64 L357.56 186.91 L358.07 187.17 L358.59 187.43 L359.13 187.69 L359.67 187.94 L360.23 188.19 L360.78 188.44 L361.35 188.68 L361.91 188.91 L362.48 189.15 L363.04 189.37 L363.61 189.60 L364.17 189.82 L364.72 190.04 L365.28 190.26 L365.83 190.48 L366.38 190.70 L366.94 190.91 L367.48 191.11 L368.01 191.31 L368.55 191.51 L369.08 191.70 L369.61 191.90 L370.14 192.10 L370.69 192.30 L371.25 192.51 L371.82 192.74 L372.41 192.97 L373.05 193.23 L373.73 193.51 L374.45 193.80 L375.20 194.11 L375.96 194.43 L376.72 194.75 L377.48 195.07 L378.22 195.38 L378.92 195.68 L379.59 195.96 L380.21 196.22 L380.76 196.45 L381.26 196.66 L381.72 196.86 L382.15 197.04 L382.56 197.21 L382.93 197.37 L383.27 197.51 L383.58 197.65 L383.87 197.77 L384.12 197.88 L384.36 197.98 L384.56 198.07 L384.75 198.14 L387.25 192.26 L387.08 192.18 L386.88 192.09 L386.65 192.00 L386.39 191.88 L386.10 191.76 L385.78 191.63 L385.44 191.48 L385.06 191.32 L384.65 191.14 L384.21 190.96 L383.74 190.76 L383.24 190.55 L382.69 190.32 L382.08 190.06 L381.41 189.78 L380.70 189.48 L379.96 189.17 L379.20 188.85 L378.43 188.53 L377.66 188.20 L376.90 187.89 L376.16 187.59 L375.45 187.30 L374.79 187.03 L374.15 186.78 L373.54 186.54 L372.95 186.32 L372.38 186.10 L371.83 185.90 L371.29 185.70 L370.76 185.50 L370.24 185.31 L369.72 185.12 L369.21 184.93 L368.70 184.73 L368.17 184.52 L367.63 184.31 L367.07 184.09 L366.52 183.87 L365.97 183.65 L365.43 183.43 L364.89 183.22 L364.36 183.00 L363.83 182.78 L363.32 182.56 L362.82 182.35 L362.34 182.13 L361.87 181.91 L361.42 181.69 L360.97 181.47 L360.53 181.24 L360.09 181.00 L359.65 180.77 L359.22 180.52 L358.78 180.28 L358.35 180.03 L357.91 179.78 L357.47 179.53 L357.03 179.28 L356.60 179.03 L356.18 178.79 L355.77 178.54 L355.35 178.29 L354.93 178.03 L354.51 177.77 L354.09 177.51 L353.66 177.25 L353.24 176.99 L352.82 176.74 L352.40 176.49 L351.97 176.24 L351.56 176.01 L351.18 175.79 L350.81 175.59 L350.45 175.40 L350.09 175.20 L349.74 175.02 L349.38 174.84 L349.03 174.66 L348.68 174.49 L348.32 174.32 L347.96 174.16 L347.59 174.00 L347.23 173.85 L346.88 173.70 L346.53 173.56 L346.18 173.42 L345.82 173.28 L345.45 173.14 L345.07 173.01 L344.68 172.88 L344.28 172.76 L343.86 172.64 L343.44 172.53 L343.00 172.43 L342.56 172.35 L342.11 172.28 L341.67 172.22 L341.23 172.17 L340.79 172.13 L340.34 172.10 L339.90 172.08 L339.47 172.06 L339.03 172.06 L338.60 172.06 L338.17 172.07 L337.74 172.08 L337.33 172.10 L336.94 172.13 L336.55 172.15 L336.14 172.18 L335.73 172.21 L335.30 172.26 L334.86 172.31 L334.41 172.38 L333.94 172.46 L333.46 172.55 L332.98 172.67 L332.48 172.81 L331.99 172.96 L331.52 173.13 L331.06 173.30 L330.60 173.48 L330.14 173.68 L329.68 173.89 L329.21 174.12 L328.74 174.36 L328.27 174.61 L327.78 174.88 L327.29 175.17 L326.79 175.48 L326.26 175.81 L325.70 176.18 L325.11 176.59 L324.49 177.03 L323.87 177.49 L323.24 177.95 L322.62 178.43 L322.00 178.90 L321.40 179.37 L320.82 179.81 L320.28 180.24 L319.79 180.62 L319.34 180.97 L318.93 181.29 L318.56 181.58 L318.22 181.85 L317.92 182.10 L317.64 182.33 L317.37 182.55 L317.11 182.77 L316.86 182.99 L316.60 183.21 L316.33 183.44 L316.04 183.69 L315.71 183.97 L315.35 184.29 L314.97 184.62 L314.58 184.96 L314.18 185.31 L313.77 185.67 L313.36 186.03 L312.95 186.40 L312.53 186.76 L312.12 187.13 L311.71 187.48 L311.31 187.83 L310.92 188.17 L310.52 188.51 L310.12 188.85 L309.72 189.19 L309.32 189.53 L308.93 189.87 L308.53 190.20 L308.14 190.53 L307.75 190.85 L307.37 191.17 L306.99 191.48 L306.61 191.78 L306.23 192.08 L305.86 192.36 L305.48 192.65 L305.10 192.94 L304.71 193.22 L304.33 193.50 L303.94 193.78 L303.55 194.05 L303.17 194.33 L302.79 194.59 L302.41 194.86 L302.03 195.12 L301.66 195.38 L301.30 195.63 L300.96 195.88 L300.62 196.11 L300.30 196.34 L299.98 196.56 L299.67 196.77 L299.37 196.98 L299.07 197.18 L298.76 197.38 L298.46 197.58 L298.15 197.77 L297.83 197.97 L297.50 198.18 L297.16 198.39 L296.84 198.59 L296.52 198.78 L296.20 198.97 L295.88 199.16 L295.56 199.34 L295.24 199.52 L294.90 199.70 L294.55 199.87 L294.19 200.05 L293.82 200.23 L293.43 200.40 L293.02 200.57 L292.59 200.75 L292.13 200.93 L291.66 201.11 L291.16 201.29 L290.65 201.48 L290.12 201.68 L289.57 201.88 L289.02 202.09 L288.45 202.30 L287.89 202.53 L287.32 202.76 L286.75 202.99 L286.16 203.23 L285.56 203.47 L284.96 203.72 L284.36 203.97 L283.76 204.22 L283.16 204.47 L282.57 204.71 L281.99 204.95 L281.43 205.19 L280.88 205.41 L280.34 205.63 L279.81 205.86 L279.29 206.07 L278.77 206.29 L278.26 206.50 L277.76 206.71 L277.27 206.91 L276.79 207.11 L276.32 207.31 L275.85 207.49 L275.40 207.68 L274.95 207.86 L274.51 208.03 L274.08 208.20 L273.66 208.36 L273.25 208.52 L272.84 208.67 L272.45 208.82 L272.06 208.96 L271.67 209.11 L271.28 209.25 L270.89 209.39 L270.49 209.52 L270.10 209.66 L269.71 209.79 L269.32 209.92 L268.93 210.05 L268.53 210.17 L268.13 210.29 L267.73 210.41 L267.32 210.54 L266.91 210.66 L266.49 210.79 L266.06 210.92 L265.62 211.05 L265.17 211.19 L264.72 211.34 L264.25 211.49 L263.78 211.65 L263.31 211.80 L262.84 211.96 L262.37 212.11 L261.91 212.27 L261.45 212.41 L261.01 212.56 L260.58 212.69 L260.17 212.81 L259.77 212.93 L259.38 213.04 L259.00 213.14 L258.65 213.24 L258.31 213.33 L257.99 213.41 L257.67 213.49 L257.35 213.57 L257.03 213.64 L256.70 213.71 L256.35 213.78 L255.98 213.84 L255.58 213.91 L255.15 213.98 L254.75 214.06 L254.38 214.12 L254.03 214.18 L253.69 214.24 L253.33 214.29 L252.94 214.34 L252.50 214.38 L251.99 214.43 L251.40 214.47 L250.71 214.51 L249.93 214.55 L249.03 214.58 L248.03 214.60 L246.94 214.62 L245.78 214.64 L244.55 214.64 L243.26 214.64 L241.93 214.63 L240.57 214.62 L239.19 214.61 L237.79 214.61 L236.39 214.60 L235.00 214.60 L233.55 214.60 L231.97 214.60 L230.29 214.60 L228.56 214.60 L226.80 214.60 L225.06 214.60 L223.38 214.60 L221.78 214.60 L220.30 214.60 L218.99 214.60 L217.88 214.60 L217.00 214.60Z" fill="#ff0000" stroke="none"/>
</g>
<g stroke="#000" stroke-width="1.90" fill="none">
<line x1="88.00" y1="137.79" x2="88.00" y2="225.49"/>
<line x1="88.00" y1="224.54" x2="382" y2="224.54"/>
<line x1="79.50" y1="219.74" x2="88.00" y2="219.74"/>
<line x1="83.50" y1="203.54" x2="88.00" y2="203.54"/>
<line x1="79.50" y1="187.34" x2="88.00" y2="187.34"/>
<line x1="83.50" y1="171.14" x2="88.00" y2="171.14"/>
<line x1="79.50" y1="154.94" x2="88.00" y2="154.94"/>
<line x1="83.50" y1="138.74" x2="88.00" y2="138.74"/>
<line x1="88.00" y1="224.54" x2="88.00" y2="232.84"/>
<line x1="104.43" y1="224.54" x2="104.43" y2="229.34"/>
<line x1="120.86" y1="224.54" x2="120.86" y2="229.34"/>
<line x1="137.29" y1="224.54" x2="137.29" y2="229.34"/>
<line x1="153.72" y1="224.54" x2="153.72" y2="229.34"/>
<line x1="170.15" y1="224.54" x2="170.15" y2="232.84"/>
<line x1="186.58" y1="224.54" x2="186.58" y2="229.34"/>
<line x1="203.01" y1="224.54" x2="203.01" y2="229.34"/>
<line x1="219.44" y1="224.54" x2="219.44" y2="229.34"/>
<line x1="235.87" y1="224.54" x2="235.87" y2="229.34"/>
<line x1="252.30" y1="224.54" x2="252.30" y2="232.84"/>
<line x1="268.73" y1="224.54" x2="268.73" y2="229.34"/>
<line x1="285.16" y1="224.54" x2="285.16" y2="229.34"/>
<line x1="301.59" y1="224.54" x2="301.59" y2="229.34"/>
<line x1="318.02" y1="224.54" x2="318.02" y2="229.34"/>
<line x1="334.45" y1="224.54" x2="334.45" y2="232.84"/>
<line x1="350.88" y1="224.54" x2="350.88" y2="229.34"/>
<line x1="367.31" y1="224.54" x2="367.31" y2="229.34"/>
</g>
<g clip-path="url(#c3)" fill="none" stroke-linejoin="round">
<path d="M88.00 317.60 C96.67 317.50 124.33 317.42 140.00 317.00 C155.67 316.58 169.33 315.68 182.00 315.10 C194.67 314.52 208.15 314.03 216.00 313.50 C223.85 312.97 225.60 312.47 229.10 311.90 C232.60 311.33 234.10 310.72 237.00 310.10 C239.90 309.48 243.88 308.75 246.50 308.20 C249.12 307.65 250.95 307.18 252.70 306.80 C254.45 306.42 255.42 305.98 257.00 305.90 C258.58 305.82 260.63 306.13 262.20 306.30 C263.77 306.47 264.83 306.93 266.40 306.90 C267.97 306.87 269.92 306.50 271.60 306.10 C273.28 305.70 274.77 305.05 276.50 304.50 C278.23 303.95 280.25 303.30 282.00 302.80 C283.75 302.30 285.25 301.83 287.00 301.50 C288.75 301.17 289.83 301.80 292.50 300.80 C295.17 299.80 299.52 298.00 303.00 295.50 C306.48 293.00 310.57 288.55 313.40 285.80 C316.23 283.05 317.82 281.08 320.00 279.00 C322.18 276.92 324.50 274.67 326.50 273.30 C328.50 271.93 330.08 271.25 332.00 270.80 C333.92 270.35 336.00 270.23 338.00 270.60 C340.00 270.97 342.00 272.00 344.00 273.00 C346.00 274.00 347.25 274.93 350.00 276.60 C352.75 278.27 357.00 281.60 360.50 283.00 C364.00 284.40 367.42 284.25 371.00 285.00 C374.58 285.75 379.50 286.83 382.00 287.50 C384.50 288.17 385.33 288.75 386.00 289.00" stroke="#000" stroke-width="2.1"/>
<path d="M88.00 317.60 C96.67 317.45 124.33 317.15 140.00 316.70 C155.67 316.25 172.38 315.40 182.00 314.90 C191.62 314.40 193.37 314.30 197.70 313.70 C202.03 313.10 204.88 312.07 208.00 311.30 C211.12 310.53 213.78 310.08 216.40 309.10 C219.02 308.12 221.62 306.88 223.70 305.40 C225.78 303.92 227.33 302.30 228.90 300.20 C230.47 298.10 231.87 295.42 233.10 292.80 C234.33 290.18 235.42 287.47 236.30 284.50 C237.18 281.53 237.63 278.52 238.40 275.00 C239.17 271.48 239.97 269.92 240.90 263.40 C241.83 256.88 243.32 242.13 244.00 235.90 C244.68 229.67 244.83 227.65 245.00 226.00" stroke="#0000ff" stroke-linecap="round" stroke-width="2.4" stroke-dasharray="2.5 5.5" stroke-dashoffset="0"/>
<path d="M254.80 226.00 C254.97 227.65 255.10 231.90 255.80 235.90 C256.50 239.90 258.00 246.35 259.00 250.00 C260.00 253.65 260.95 255.97 261.80 257.80 C262.65 259.63 263.33 260.63 264.10 261.00 C264.87 261.37 265.62 260.83 266.40 260.00 C267.18 259.17 267.70 257.90 268.80 256.00 C269.90 254.10 271.50 250.45 273.00 248.60 C274.50 246.75 276.30 245.07 277.80 244.90 C279.30 244.73 280.63 245.80 282.00 247.60 C283.37 249.40 284.47 252.17 286.00 255.70 C287.53 259.23 289.25 264.43 291.20 268.80 C293.15 273.17 295.30 278.20 297.70 281.90 C300.10 285.60 302.98 288.17 305.60 291.00 C308.22 293.83 310.35 296.93 313.40 298.90 C316.45 300.87 319.53 301.93 323.90 302.80 C328.27 303.67 334.37 303.67 339.60 304.10 C344.83 304.53 350.50 304.83 355.30 305.40 C360.10 305.97 363.95 306.70 368.40 307.50 C372.85 308.30 379.07 309.62 382.00 310.20 C384.93 310.78 385.33 310.87 386.00 311.00" stroke="#0000ff" stroke-linecap="round" stroke-width="2.4" stroke-dasharray="2.5 5.5" stroke-dashoffset="0"/>
<path d="M217.00 317.40 L217.88 317.40 L218.99 317.40 L220.30 317.40 L221.78 317.40 L223.38 317.40 L225.06 317.40 L226.80 317.40 L228.56 317.40 L230.29 317.40 L231.97 317.40 L233.55 317.40 L235.00 317.40 L236.38 317.40 L237.77 317.41 L239.16 317.41 L240.54 317.42 L241.91 317.43 L243.24 317.43 L244.53 317.44 L245.78 317.45 L246.96 317.46 L248.08 317.46 L249.11 317.46 L250.06 317.45 L250.91 317.44 L251.65 317.42 L252.31 317.39 L252.91 317.36 L253.44 317.33 L253.93 317.29 L254.37 317.24 L254.79 317.20 L255.18 317.15 L255.57 317.10 L255.95 317.05 L256.37 316.99 L256.82 316.94 L257.27 316.87 L257.70 316.80 L258.12 316.73 L258.52 316.66 L258.91 316.58 L259.29 316.50 L259.67 316.42 L260.03 316.34 L260.40 316.26 L260.76 316.18 L261.14 316.09 L261.53 316.00 L261.94 315.91 L262.34 315.81 L262.75 315.71 L263.15 315.61 L263.55 315.50 L263.95 315.40 L264.33 315.30 L264.71 315.20 L265.07 315.10 L265.42 315.00 L265.76 314.91 L266.09 314.82 L266.41 314.74 L266.72 314.65 L267.01 314.57 L267.30 314.48 L267.57 314.40 L267.84 314.33 L268.11 314.25 L268.37 314.17 L268.64 314.10 L268.91 314.02 L269.18 313.95 L269.46 313.87 L269.74 313.79 L270.03 313.72 L270.31 313.65 L270.61 313.57 L270.90 313.49 L271.20 313.41 L271.51 313.33 L271.83 313.25 L272.15 313.16 L272.48 313.07 L272.81 312.98 L273.13 312.89 L273.44 312.80 L273.76 312.72 L274.09 312.63 L274.43 312.53 L274.79 312.43 L275.15 312.33 L275.54 312.21 L275.93 312.09 L276.34 311.96 L276.77 311.81 L277.22 311.66 L277.69 311.49 L278.17 311.30 L278.67 311.11 L279.17 310.91 L279.69 310.70 L280.21 310.49 L280.72 310.27 L281.23 310.06 L281.74 309.85 L282.23 309.65 L282.70 309.46 L283.16 309.27 L283.61 309.09 L284.05 308.90 L284.48 308.73 L284.90 308.55 L285.31 308.38 L285.71 308.21 L286.11 308.05 L286.51 307.88 L286.90 307.72 L287.30 307.56 L287.70 307.41 L288.11 307.25 L288.52 307.10 L288.95 306.94 L289.39 306.79 L289.84 306.64 L290.30 306.48 L290.77 306.32 L291.25 306.16 L291.73 306.00 L292.21 305.83 L292.70 305.66 L293.19 305.48 L293.66 305.30 L294.10 305.12 L294.52 304.96 L294.94 304.79 L295.36 304.62 L295.78 304.45 L296.21 304.27 L296.63 304.08 L297.07 303.89 L297.51 303.68 L297.96 303.47 L298.42 303.24 L298.89 303.00 L299.36 302.75 L299.85 302.49 L300.34 302.22 L300.84 301.94 L301.34 301.65 L301.85 301.35 L302.35 301.04 L302.86 300.73 L303.36 300.41 L303.86 300.09 L304.35 299.76 L304.83 299.42 L305.30 299.09 L305.76 298.76 L306.21 298.43 L306.65 298.09 L307.09 297.75 L307.52 297.41 L307.95 297.06 L308.38 296.70 L308.81 296.34 L309.24 295.97 L309.68 295.59 L310.13 295.19 L310.60 294.77 L311.08 294.32 L311.56 293.86 L312.03 293.40 L312.51 292.94 L312.98 292.47 L313.44 292.02 L313.89 291.57 L314.33 291.13 L314.76 290.71 L315.17 290.32 L315.57 289.95 L315.97 289.58 L316.36 289.23 L316.73 288.89 L317.09 288.57 L317.44 288.25 L317.78 287.95 L318.13 287.65 L318.47 287.35 L318.83 287.05 L319.20 286.74 L319.58 286.43 L319.98 286.11 L320.41 285.78 L320.86 285.43 L321.34 285.07 L321.84 284.71 L322.34 284.33 L322.85 283.96 L323.37 283.60 L323.87 283.23 L324.37 282.88 L324.85 282.54 L325.31 282.22 L325.74 281.92 L326.14 281.64 L326.52 281.37 L326.88 281.12 L327.22 280.89 L327.54 280.67 L327.85 280.46 L328.14 280.26 L328.43 280.08 L328.72 279.90 L329.00 279.72 L329.29 279.55 L329.59 279.38 L329.90 279.20 L330.20 279.03 L330.48 278.88 L330.75 278.73 L331.01 278.60 L331.27 278.47 L331.53 278.34 L331.80 278.22 L332.08 278.10 L332.39 277.97 L332.72 277.85 L333.10 277.71 L333.54 277.54 L334.02 277.37 L334.51 277.19 L335.01 277.01 L335.51 276.84 L336.01 276.67 L336.51 276.52 L336.98 276.39 L337.43 276.28 L337.85 276.19 L338.22 276.13 L338.56 276.09 L338.89 276.07 L339.23 276.07 L339.57 276.08 L339.91 276.11 L340.25 276.16 L340.61 276.21 L340.97 276.28 L341.35 276.37 L341.75 276.47 L342.16 276.59 L342.59 276.71 L343.03 276.85 L343.46 276.99 L343.85 277.12 L344.22 277.26 L344.59 277.41 L344.96 277.57 L345.34 277.74 L345.75 277.94 L346.19 278.16 L346.67 278.41 L347.20 278.70 L347.78 279.02 L348.40 279.37 L349.05 279.76 L349.77 280.21 L350.56 280.71 L351.40 281.27 L352.28 281.86 L353.20 282.47 L354.14 283.10 L355.10 283.72 L356.08 284.34 L357.06 284.94 L358.05 285.51 L359.02 286.04 L359.97 286.52 L360.91 286.96 L361.84 287.37 L362.76 287.76 L363.67 288.13 L364.57 288.48 L365.46 288.82 L366.34 289.15 L367.22 289.48 L368.09 289.80 L368.95 290.13 L369.82 290.48 L370.74 290.84 L371.71 291.23 L372.71 291.62 L373.72 292.02 L374.74 292.41 L375.74 292.81 L376.73 293.19 L377.68 293.56 L378.57 293.91 L379.41 294.23 L380.17 294.52 L380.85 294.79 L381.44 295.02 L381.98 295.22 L382.45 295.40 L382.88 295.56 L383.25 295.70 L383.58 295.82 L383.87 295.93 L384.13 296.02 L384.35 296.10 L384.55 296.17 L384.72 296.24 L384.88 296.30 L387.12 290.30 L386.94 290.23 L386.75 290.16 L386.54 290.09 L386.32 290.01 L386.07 289.92 L385.80 289.82 L385.48 289.70 L385.12 289.57 L384.72 289.41 L384.26 289.24 L383.74 289.04 L383.15 288.81 L382.48 288.56 L381.72 288.26 L380.89 287.94 L379.99 287.59 L379.05 287.22 L378.07 286.84 L377.07 286.45 L376.06 286.06 L375.05 285.66 L374.06 285.27 L373.10 284.89 L372.18 284.52 L371.26 284.17 L370.36 283.82 L369.46 283.48 L368.58 283.15 L367.72 282.83 L366.87 282.51 L366.03 282.18 L365.20 281.85 L364.39 281.50 L363.58 281.14 L362.77 280.76 L361.98 280.36 L361.18 279.93 L360.33 279.44 L359.46 278.91 L358.56 278.34 L357.65 277.75 L356.74 277.14 L355.83 276.54 L354.94 275.94 L354.06 275.36 L353.21 274.81 L352.38 274.29 L351.60 273.83 L350.91 273.44 L350.28 273.09 L349.68 272.77 L349.12 272.47 L348.58 272.20 L348.06 271.95 L347.54 271.71 L347.03 271.49 L346.52 271.29 L346.01 271.10 L345.49 270.92 L344.97 270.75 L344.44 270.59 L343.92 270.43 L343.39 270.29 L342.85 270.15 L342.30 270.02 L341.73 269.91 L341.15 269.82 L340.56 269.75 L339.95 269.70 L339.33 269.67 L338.70 269.68 L338.04 269.71 L337.35 269.78 L336.67 269.90 L335.99 270.04 L335.34 270.20 L334.70 270.38 L334.07 270.58 L333.47 270.77 L332.89 270.97 L332.34 271.17 L331.83 271.36 L331.35 271.53 L330.90 271.69 L330.46 271.86 L330.02 272.03 L329.60 272.20 L329.20 272.37 L328.82 272.54 L328.46 272.72 L328.10 272.90 L327.76 273.08 L327.42 273.26 L327.09 273.44 L326.76 273.63 L326.41 273.82 L326.05 274.03 L325.69 274.25 L325.33 274.47 L324.98 274.69 L324.64 274.91 L324.29 275.14 L323.94 275.37 L323.59 275.62 L323.23 275.86 L322.86 276.12 L322.47 276.39 L322.06 276.68 L321.63 276.98 L321.16 277.31 L320.67 277.66 L320.16 278.02 L319.64 278.39 L319.11 278.77 L318.57 279.16 L318.04 279.55 L317.51 279.94 L317.00 280.33 L316.50 280.71 L316.02 281.09 L315.57 281.45 L315.14 281.80 L314.73 282.14 L314.33 282.47 L313.94 282.81 L313.56 283.14 L313.18 283.47 L312.80 283.81 L312.42 284.15 L312.04 284.51 L311.64 284.87 L311.23 285.25 L310.78 285.67 L310.32 286.11 L309.86 286.56 L309.40 287.01 L308.93 287.47 L308.47 287.93 L308.02 288.38 L307.57 288.82 L307.12 289.25 L306.69 289.66 L306.28 290.04 L305.87 290.41 L305.46 290.77 L305.06 291.12 L304.66 291.46 L304.27 291.79 L303.89 292.11 L303.51 292.42 L303.13 292.72 L302.74 293.02 L302.36 293.31 L301.97 293.60 L301.57 293.89 L301.17 294.18 L300.76 294.46 L300.33 294.75 L299.89 295.03 L299.45 295.31 L299.00 295.60 L298.54 295.87 L298.09 296.15 L297.64 296.42 L297.19 296.68 L296.75 296.93 L296.32 297.17 L295.91 297.40 L295.52 297.61 L295.14 297.81 L294.77 297.99 L294.41 298.17 L294.04 298.34 L293.68 298.51 L293.31 298.67 L292.94 298.83 L292.56 299.00 L292.16 299.16 L291.76 299.33 L291.34 299.50 L290.94 299.67 L290.52 299.83 L290.10 299.99 L289.65 300.16 L289.20 300.32 L288.74 300.49 L288.27 300.66 L287.80 300.83 L287.32 301.00 L286.84 301.18 L286.36 301.36 L285.89 301.55 L285.44 301.73 L285.00 301.92 L284.57 302.10 L284.15 302.28 L283.73 302.46 L283.32 302.64 L282.92 302.82 L282.51 303.00 L282.11 303.18 L281.69 303.36 L281.27 303.54 L280.84 303.73 L280.38 303.93 L279.89 304.14 L279.40 304.36 L278.90 304.57 L278.40 304.79 L277.89 305.01 L277.40 305.23 L276.92 305.43 L276.45 305.63 L276.00 305.82 L275.57 305.99 L275.18 306.14 L274.81 306.28 L274.46 306.41 L274.11 306.53 L273.78 306.64 L273.46 306.74 L273.14 306.84 L272.82 306.94 L272.50 307.03 L272.18 307.13 L271.85 307.22 L271.52 307.32 L271.19 307.42 L270.88 307.52 L270.58 307.61 L270.28 307.69 L269.98 307.78 L269.69 307.86 L269.40 307.94 L269.10 308.03 L268.81 308.11 L268.52 308.19 L268.22 308.28 L267.92 308.37 L267.62 308.45 L267.32 308.54 L267.03 308.63 L266.75 308.72 L266.47 308.80 L266.21 308.89 L265.94 308.97 L265.67 309.05 L265.40 309.14 L265.13 309.22 L264.84 309.31 L264.55 309.40 L264.24 309.49 L263.91 309.58 L263.56 309.69 L263.20 309.79 L262.83 309.90 L262.46 310.00 L262.09 310.11 L261.71 310.22 L261.33 310.32 L260.96 310.42 L260.59 310.52 L260.22 310.61 L259.86 310.71 L259.50 310.79 L259.14 310.88 L258.79 310.97 L258.45 311.05 L258.11 311.13 L257.78 311.21 L257.44 311.28 L257.10 311.35 L256.76 311.42 L256.40 311.48 L256.03 311.54 L255.63 311.61 L255.21 311.67 L254.81 311.73 L254.45 311.78 L254.10 311.83 L253.75 311.88 L253.39 311.93 L252.99 311.97 L252.54 312.01 L252.02 312.05 L251.42 312.08 L250.73 312.12 L249.94 312.15 L249.04 312.17 L248.03 312.20 L246.94 312.21 L245.78 312.23 L244.55 312.24 L243.26 312.23 L241.93 312.23 L240.57 312.22 L239.18 312.21 L237.79 312.21 L236.39 312.20 L235.00 312.20 L233.55 312.20 L231.97 312.20 L230.29 312.20 L228.56 312.20 L226.80 312.20 L225.06 312.20 L223.38 312.20 L221.78 312.20 L220.30 312.20 L218.99 312.20 L217.88 312.20 L217.00 312.20Z" fill="#ff0000" stroke="none"/>
</g>
<g stroke="#000" stroke-width="1.90" fill="none">
<line x1="88.00" y1="235.66" x2="88.00" y2="323.36"/>
<line x1="88.00" y1="322.41" x2="382" y2="322.41"/>
<line x1="79.50" y1="317.61" x2="88.00" y2="317.61"/>
<line x1="83.50" y1="301.41" x2="88.00" y2="301.41"/>
<line x1="79.50" y1="285.21" x2="88.00" y2="285.21"/>
<line x1="83.50" y1="269.01" x2="88.00" y2="269.01"/>
<line x1="79.50" y1="252.81" x2="88.00" y2="252.81"/>
<line x1="83.50" y1="236.61" x2="88.00" y2="236.61"/>
<line x1="88.00" y1="322.41" x2="88.00" y2="330.71"/>
<line x1="104.43" y1="322.41" x2="104.43" y2="327.21"/>
<line x1="120.86" y1="322.41" x2="120.86" y2="327.21"/>
<line x1="137.29" y1="322.41" x2="137.29" y2="327.21"/>
<line x1="153.72" y1="322.41" x2="153.72" y2="327.21"/>
<line x1="170.15" y1="322.41" x2="170.15" y2="330.71"/>
<line x1="186.58" y1="322.41" x2="186.58" y2="327.21"/>
<line x1="203.01" y1="322.41" x2="203.01" y2="327.21"/>
<line x1="219.44" y1="322.41" x2="219.44" y2="327.21"/>
<line x1="235.87" y1="322.41" x2="235.87" y2="327.21"/>
<line x1="252.30" y1="322.41" x2="252.30" y2="330.71"/>
<line x1="268.73" y1="322.41" x2="268.73" y2="327.21"/>
<line x1="285.16" y1="322.41" x2="285.16" y2="327.21"/>
<line x1="301.59" y1="322.41" x2="301.59" y2="327.21"/>
<line x1="318.02" y1="322.41" x2="318.02" y2="327.21"/>
<line x1="334.45" y1="322.41" x2="334.45" y2="330.71"/>
<line x1="350.88" y1="322.41" x2="350.88" y2="327.21"/>
<line x1="367.31" y1="322.41" x2="367.31" y2="327.21"/>
</g>
<g clip-path="url(#c4)" fill="none" stroke-linejoin="round">
<path d="M88.00 415.50 C96.67 415.42 124.33 415.28 140.00 415.00 C155.67 414.72 170.63 414.23 182.00 413.80 C193.37 413.37 201.65 412.88 208.20 412.40 C214.75 411.92 217.82 411.47 221.30 410.90 C224.78 410.33 226.70 409.83 229.10 409.00 C231.50 408.17 233.63 407.25 235.70 405.90 C237.77 404.55 240.12 401.45 241.50 400.90 C242.88 400.35 243.00 402.18 244.00 402.60 C245.00 403.02 245.83 403.57 247.50 403.40 C249.17 403.23 251.83 402.13 254.00 401.60 C256.17 401.07 258.10 400.38 260.50 400.20 C262.90 400.02 266.48 400.50 268.40 400.50 C270.32 400.50 270.65 400.48 272.00 400.20 C273.35 399.92 274.83 399.30 276.50 398.80 C278.17 398.30 280.25 397.73 282.00 397.20 C283.75 396.67 285.25 396.20 287.00 395.60 C288.75 395.00 290.77 394.32 292.50 393.60 C294.23 392.88 295.65 392.30 297.40 391.30 C299.15 390.30 301.48 388.75 303.00 387.60 C304.52 386.45 304.77 386.12 306.50 384.40 C308.23 382.68 311.67 379.08 313.40 377.30 C315.13 375.52 315.43 375.32 316.90 373.70 C318.37 372.08 320.45 369.28 322.20 367.60 C323.95 365.92 325.83 364.48 327.40 363.60 C328.97 362.72 330.17 362.25 331.60 362.30 C333.03 362.35 334.88 363.33 336.00 363.90 C337.12 364.47 336.40 363.58 338.30 365.70 C340.20 367.82 344.13 373.03 347.40 376.60 C350.67 380.17 354.40 384.47 357.90 387.10 C361.40 389.73 364.38 390.87 368.40 392.40 C372.42 393.93 379.07 395.53 382.00 396.30 C384.93 397.07 385.33 396.88 386.00 397.00" stroke="#000" stroke-width="2.1"/>
<path d="M88.00 415.50 C96.67 415.33 124.33 415.00 140.00 414.50 C155.67 414.00 172.38 413.02 182.00 412.50 C191.62 411.98 192.90 411.85 197.70 411.40 C202.50 410.95 206.87 410.30 210.80 409.80 C214.73 409.30 218.02 409.27 221.30 408.40 C224.58 407.53 227.58 406.20 230.50 404.60 C233.42 403.00 236.18 400.98 238.80 398.80 C241.42 396.62 243.92 394.03 246.20 391.50 C248.48 388.97 250.85 386.32 252.50 383.60 C254.15 380.88 255.15 377.58 256.10 375.20 C257.05 372.82 257.25 372.90 258.20 369.30 C259.15 365.70 260.53 358.83 261.80 353.60 C263.07 348.37 264.48 341.67 265.80 337.90 C267.12 334.13 268.40 331.23 269.70 331.00 C271.00 330.77 272.07 333.62 273.60 336.50 C275.13 339.38 277.50 344.97 278.90 348.30 C280.30 351.63 279.95 354.48 282.00 356.50 C284.05 358.52 288.15 360.45 291.20 360.40 C294.25 360.35 297.68 356.98 300.30 356.20 C302.92 355.42 304.93 355.13 306.90 355.70 C308.87 356.27 310.15 357.63 312.10 359.60 C314.05 361.57 315.98 363.78 318.60 367.50 C321.22 371.22 324.73 377.98 327.80 381.90 C330.87 385.82 333.73 388.38 337.00 391.00 C340.27 393.62 343.92 395.98 347.40 397.60 C350.88 399.22 353.97 399.97 357.90 400.70 C361.83 401.43 366.98 401.65 371.00 402.00 C375.02 402.35 379.50 402.63 382.00 402.80 C384.50 402.97 385.33 402.97 386.00 403.00" stroke="#0000ff" stroke-linecap="round" stroke-width="2.4" stroke-dasharray="2.5 5.5" stroke-dashoffset="0"/>
<path d="M217.00 416.90 L217.88 416.90 L218.99 416.90 L220.30 416.90 L221.78 416.90 L223.37 416.91 L225.06 416.91 L226.80 416.91 L228.56 416.91 L230.29 416.91 L231.97 416.91 L233.55 416.90 L235.01 416.90 L236.39 416.90 L237.79 416.89 L239.20 416.89 L240.60 416.89 L241.97 416.89 L243.32 416.89 L244.62 416.88 L245.87 416.88 L247.06 416.88 L248.16 416.88 L249.18 416.87 L250.09 416.85 L250.88 416.83 L251.56 416.80 L252.14 416.77 L252.64 416.74 L253.09 416.69 L253.50 416.64 L253.87 416.58 L254.20 416.52 L254.51 416.46 L254.82 416.39 L255.14 416.33 L255.53 416.26 L256.00 416.17 L256.50 416.06 L256.99 415.95 L257.48 415.83 L257.96 415.71 L258.44 415.59 L258.91 415.46 L259.37 415.34 L259.83 415.22 L260.29 415.10 L260.73 414.99 L261.16 414.89 L261.61 414.79 L262.06 414.68 L262.52 414.58 L262.98 414.48 L263.44 414.38 L263.91 414.28 L264.37 414.18 L264.84 414.07 L265.31 413.97 L265.78 413.86 L266.24 413.75 L266.69 413.64 L267.07 413.55 L267.40 413.48 L267.73 413.42 L268.07 413.35 L268.42 413.28 L268.81 413.19 L269.24 413.09 L269.70 412.97 L270.21 412.82 L270.76 412.65 L271.37 412.44 L272.04 412.19 L272.80 411.90 L273.62 411.56 L274.49 411.20 L275.41 410.81 L276.37 410.40 L277.35 409.97 L278.35 409.54 L279.36 409.10 L280.35 408.67 L281.33 408.25 L282.28 407.84 L283.18 407.46 L284.05 407.11 L284.92 406.76 L285.79 406.42 L286.66 406.08 L287.54 405.75 L288.42 405.40 L289.31 405.06 L290.20 404.70 L291.11 404.33 L292.02 403.94 L292.94 403.53 L293.86 403.11 L294.80 402.65 L295.75 402.18 L296.72 401.68 L297.70 401.17 L298.68 400.65 L299.64 400.13 L300.59 399.61 L301.50 399.10 L302.37 398.60 L303.20 398.12 L303.97 397.66 L304.68 397.22 L305.33 396.82 L305.92 396.43 L306.46 396.06 L306.95 395.71 L307.39 395.38 L307.80 395.06 L308.18 394.76 L308.53 394.47 L308.87 394.19 L309.21 393.92 L309.56 393.64 L309.95 393.34 L310.38 393.01 L310.84 392.66 L311.31 392.29 L311.79 391.93 L312.27 391.55 L312.75 391.18 L313.23 390.81 L313.69 390.45 L314.15 390.09 L314.58 389.75 L315.00 389.41 L315.40 389.10 L315.76 388.81 L316.08 388.56 L316.37 388.32 L316.64 388.10 L316.90 387.88 L317.16 387.67 L317.42 387.45 L317.69 387.22 L317.99 386.97 L318.31 386.69 L318.67 386.38 L319.08 386.03 L319.56 385.62 L320.09 385.16 L320.67 384.66 L321.28 384.12 L321.92 383.57 L322.56 383.01 L323.20 382.45 L323.83 381.90 L324.44 381.37 L325.01 380.87 L325.53 380.42 L326.00 380.01 L326.42 379.64 L326.81 379.30 L327.16 378.99 L327.47 378.71 L327.74 378.46 L327.99 378.23 L328.22 378.03 L328.43 377.85 L328.62 377.69 L328.82 377.53 L329.02 377.38 L329.24 377.21 L329.49 377.05 L329.74 376.88 L329.99 376.72 L330.24 376.57 L330.49 376.42 L330.75 376.28 L331.00 376.14 L331.26 376.01 L331.51 375.88 L331.76 375.76 L332.01 375.65 L332.26 375.54 L332.49 375.45 L332.71 375.36 L332.92 375.28 L333.14 375.21 L333.35 375.14 L333.56 375.08 L333.78 375.02 L334.01 374.96 L334.24 374.90 L334.48 374.85 L334.74 374.80 L335.02 374.74 L335.33 374.68 L335.64 374.61 L335.93 374.56 L336.19 374.50 L336.43 374.46 L336.66 374.42 L336.87 374.40 L337.09 374.38 L337.30 374.36 L337.52 374.36 L337.75 374.37 L338.01 374.39 L338.31 374.42 L338.65 374.47 L339.03 374.53 L339.43 374.61 L339.85 374.70 L340.29 374.80 L340.74 374.91 L341.20 375.02 L341.66 375.15 L342.13 375.28 L342.60 375.42 L343.07 375.56 L343.54 375.71 L343.99 375.84 L344.41 375.97 L344.81 376.10 L345.21 376.24 L345.61 376.38 L346.01 376.53 L346.45 376.70 L346.91 376.89 L347.42 377.12 L347.97 377.38 L348.58 377.67 L349.25 378.00 L349.97 378.39 L350.76 378.82 L351.60 379.29 L352.48 379.78 L353.38 380.30 L354.31 380.83 L355.26 381.37 L356.20 381.90 L357.15 382.43 L358.09 382.94 L359.01 383.43 L359.89 383.89 L360.77 384.35 L361.65 384.80 L362.53 385.25 L363.41 385.70 L364.29 386.14 L365.18 386.58 L366.07 387.02 L366.96 387.45 L367.86 387.88 L368.77 388.30 L369.69 388.72 L370.64 389.14 L371.63 389.57 L372.65 389.99 L373.68 390.42 L374.71 390.83 L375.72 391.24 L376.71 391.63 L377.66 392.01 L378.55 392.36 L379.38 392.69 L380.13 392.99 L380.78 393.26 L381.36 393.50 L381.88 393.72 L382.34 393.91 L382.75 394.08 L383.11 394.23 L383.42 394.37 L383.70 394.49 L383.95 394.60 L384.17 394.69 L384.37 394.78 L384.56 394.87 L384.74 394.94 L387.26 389.06 L387.09 388.99 L386.92 388.91 L386.72 388.83 L386.50 388.73 L386.24 388.62 L385.95 388.49 L385.62 388.35 L385.25 388.19 L384.83 388.01 L384.35 387.81 L383.82 387.59 L383.22 387.34 L382.53 387.06 L381.75 386.75 L380.91 386.41 L380.01 386.06 L379.07 385.68 L378.09 385.30 L377.10 384.90 L376.10 384.49 L375.11 384.08 L374.14 383.68 L373.20 383.28 L372.31 382.88 L371.45 382.49 L370.58 382.08 L369.72 381.68 L368.86 381.26 L368.00 380.84 L367.15 380.42 L366.29 379.99 L365.44 379.55 L364.58 379.11 L363.72 378.67 L362.85 378.22 L361.99 377.77 L361.13 377.31 L360.24 376.83 L359.34 376.32 L358.41 375.80 L357.48 375.27 L356.55 374.74 L355.64 374.22 L354.73 373.71 L353.85 373.22 L353.00 372.75 L352.19 372.32 L351.42 371.93 L350.71 371.59 L350.06 371.29 L349.44 371.02 L348.86 370.77 L348.32 370.56 L347.79 370.36 L347.29 370.18 L346.81 370.02 L346.34 369.87 L345.87 369.73 L345.41 369.59 L344.93 369.44 L344.42 369.28 L343.90 369.13 L343.36 368.98 L342.83 368.84 L342.29 368.70 L341.75 368.57 L341.22 368.44 L340.68 368.33 L340.16 368.23 L339.63 368.14 L339.11 368.07 L338.59 368.01 L338.07 367.98 L337.56 367.96 L337.08 367.97 L336.61 367.99 L336.17 368.04 L335.75 368.09 L335.37 368.15 L335.00 368.21 L334.67 368.28 L334.36 368.34 L334.07 368.40 L333.78 368.46 L333.46 368.52 L333.13 368.59 L332.80 368.67 L332.47 368.75 L332.13 368.83 L331.80 368.92 L331.46 369.02 L331.12 369.13 L330.78 369.25 L330.44 369.38 L330.09 369.51 L329.74 369.66 L329.40 369.81 L329.06 369.96 L328.71 370.13 L328.36 370.30 L328.01 370.48 L327.66 370.67 L327.31 370.87 L326.96 371.07 L326.61 371.29 L326.26 371.51 L325.91 371.74 L325.56 371.99 L325.21 372.23 L324.88 372.48 L324.57 372.73 L324.28 372.98 L324.00 373.22 L323.72 373.47 L323.45 373.72 L323.16 373.97 L322.87 374.24 L322.55 374.53 L322.20 374.84 L321.80 375.19 L321.34 375.59 L320.81 376.05 L320.23 376.55 L319.63 377.08 L319.00 377.63 L318.35 378.19 L317.71 378.75 L317.08 379.30 L316.47 379.82 L315.90 380.32 L315.38 380.77 L314.92 381.17 L314.51 381.52 L314.15 381.83 L313.83 382.10 L313.55 382.34 L313.30 382.55 L313.05 382.76 L312.82 382.95 L312.58 383.15 L312.33 383.35 L312.06 383.58 L311.75 383.82 L311.40 384.10 L311.02 384.40 L310.61 384.73 L310.19 385.06 L309.74 385.41 L309.29 385.77 L308.82 386.13 L308.35 386.50 L307.88 386.86 L307.41 387.22 L306.95 387.57 L306.50 387.92 L306.05 388.26 L305.61 388.60 L305.20 388.93 L304.83 389.23 L304.48 389.52 L304.15 389.78 L303.83 390.04 L303.51 390.29 L303.17 390.55 L302.79 390.82 L302.37 391.11 L301.89 391.42 L301.32 391.78 L300.67 392.17 L299.94 392.61 L299.15 393.07 L298.31 393.56 L297.44 394.06 L296.55 394.58 L295.63 395.10 L294.71 395.61 L293.78 396.11 L292.88 396.60 L291.99 397.06 L291.14 397.49 L290.32 397.89 L289.50 398.28 L288.67 398.65 L287.83 399.01 L286.99 399.37 L286.14 399.72 L285.28 400.07 L284.41 400.43 L283.53 400.79 L282.64 401.16 L281.73 401.54 L280.82 401.94 L279.89 402.35 L278.92 402.79 L277.94 403.24 L276.94 403.69 L275.94 404.15 L274.96 404.60 L274.00 405.04 L273.07 405.46 L272.19 405.86 L271.37 406.22 L270.62 406.54 L269.96 406.81 L269.38 407.04 L268.89 407.22 L268.47 407.36 L268.11 407.47 L267.79 407.57 L267.50 407.64 L267.20 407.71 L266.90 407.78 L266.56 407.86 L266.18 407.94 L265.76 408.04 L265.31 408.16 L264.88 408.27 L264.45 408.38 L264.01 408.49 L263.56 408.60 L263.11 408.71 L262.66 408.82 L262.19 408.93 L261.73 409.04 L261.26 409.16 L260.79 409.27 L260.31 409.39 L259.84 409.51 L259.35 409.64 L258.87 409.77 L258.39 409.90 L257.92 410.04 L257.46 410.17 L257.00 410.30 L256.55 410.43 L256.12 410.55 L255.69 410.66 L255.28 410.76 L254.88 410.86 L254.47 410.94 L254.06 411.03 L253.69 411.11 L253.38 411.18 L253.13 411.24 L252.91 411.28 L252.69 411.32 L252.44 411.36 L252.14 411.40 L251.75 411.44 L251.26 411.47 L250.65 411.51 L249.91 411.55 L249.04 411.58 L248.07 411.61 L246.99 411.64 L245.83 411.66 L244.60 411.68 L243.30 411.69 L241.96 411.69 L240.59 411.69 L239.19 411.69 L237.79 411.69 L236.38 411.70 L234.99 411.70 L233.54 411.70 L231.96 411.71 L230.29 411.71 L228.56 411.71 L226.80 411.71 L225.06 411.71 L223.38 411.71 L221.78 411.70 L220.31 411.70 L219.00 411.70 L217.88 411.70 L217.00 411.70Z" fill="#ff0000" stroke="none"/>
</g>
<g stroke="#000" stroke-width="1.90" fill="none">
<line x1="88.00" y1="333.53" x2="88.00" y2="421.23"/>
<line x1="88.00" y1="420.28" x2="382" y2="420.28"/>
<line x1="79.50" y1="415.48" x2="88.00" y2="415.48"/>
<line x1="83.50" y1="399.28" x2="88.00" y2="399.28"/>
<line x1="79.50" y1="383.08" x2="88.00" y2="383.08"/>
<line x1="83.50" y1="366.88" x2="88.00" y2="366.88"/>
<line x1="79.50" y1="350.68" x2="88.00" y2="350.68"/>
<line x1="83.50" y1="334.48" x2="88.00" y2="334.48"/>
<line x1="88.00" y1="420.28" x2="88.00" y2="435.98"/>
<line x1="104.43" y1="420.28" x2="104.43" y2="429.08"/>
<line x1="120.86" y1="420.28" x2="120.86" y2="429.08"/>
<line x1="137.29" y1="420.28" x2="137.29" y2="429.08"/>
<line x1="153.72" y1="420.28" x2="153.72" y2="429.08"/>
<line x1="170.15" y1="420.28" x2="170.15" y2="435.98"/>
<line x1="186.58" y1="420.28" x2="186.58" y2="429.08"/>
<line x1="203.01" y1="420.28" x2="203.01" y2="429.08"/>
<line x1="219.44" y1="420.28" x2="219.44" y2="429.08"/>
<line x1="235.87" y1="420.28" x2="235.87" y2="429.08"/>
<line x1="252.30" y1="420.28" x2="252.30" y2="435.98"/>
<line x1="268.73" y1="420.28" x2="268.73" y2="429.08"/>
<line x1="285.16" y1="420.28" x2="285.16" y2="429.08"/>
<line x1="301.59" y1="420.28" x2="301.59" y2="429.08"/>
<line x1="318.02" y1="420.28" x2="318.02" y2="429.08"/>
<line x1="334.45" y1="420.28" x2="334.45" y2="435.98"/>
<line x1="350.88" y1="420.28" x2="350.88" y2="429.08"/>
<line x1="367.31" y1="420.28" x2="367.31" y2="429.08"/>
</g>
<g id="t"><text transform="translate(75.10,29.62) scale(1.015,1)" text-anchor="end" font-size="19.5">0</text>
<text transform="translate(75.10,127.49) scale(1.015,1)" text-anchor="end" font-size="19.5">0</text>
<text transform="translate(75.10,95.09) scale(1.015,1)" text-anchor="end" font-size="19.5">20</text>
<text transform="translate(75.10,62.69) scale(1.015,1)" text-anchor="end" font-size="19.5">40</text>
<text transform="translate(75.10,225.36) scale(1.015,1)" text-anchor="end" font-size="19.5">0</text>
<text transform="translate(75.10,192.96) scale(1.015,1)" text-anchor="end" font-size="19.5">20</text>
<text transform="translate(75.10,160.56) scale(1.015,1)" text-anchor="end" font-size="19.5">40</text>
<text transform="translate(75.10,323.23) scale(1.015,1)" text-anchor="end" font-size="19.5">0</text>
<text transform="translate(75.10,290.83) scale(1.015,1)" text-anchor="end" font-size="19.5">20</text>
<text transform="translate(75.10,258.43) scale(1.015,1)" text-anchor="end" font-size="19.5">40</text>
<text transform="translate(75.10,421.10) scale(1.015,1)" text-anchor="end" font-size="19.5">0</text>
<text transform="translate(75.10,388.70) scale(1.015,1)" text-anchor="end" font-size="19.5">20</text>
<text transform="translate(75.10,356.30) scale(1.015,1)" text-anchor="end" font-size="19.5">40</text>
<text transform="translate(103.00,70.17) scale(1.015,1)" font-size="29.0">SV-bas</text>
<text transform="translate(102.20,169.84) scale(0.982,1)" font-size="29.0">SkM*</text>
<text transform="translate(102.50,267.71) scale(1.015,1)" font-size="29.0">SLy6</text>
<text transform="translate(104.80,365.08) scale(1.005,1)" font-size="29.0">SkI3</text>
<text transform="translate(87.70,456.10) scale(1.015,1)" text-anchor="middle" font-size="19.5">0</text>
<text transform="translate(169.85,456.10) scale(1.015,1)" text-anchor="middle" font-size="19.5">5</text>
<text transform="translate(252.00,456.10) scale(1.015,1)" text-anchor="middle" font-size="19.5">10</text>
<text transform="translate(334.15,456.10) scale(1.015,1)" text-anchor="middle" font-size="19.5">15</text>
<text transform="translate(234.0,486.0) scale(0.972,1)" font-size="26.3" xml:space="preserve" style="white-space:pre">E  [MeV]</text>
<g>
<text transform="translate(33.3,220.3) rotate(-90)" font-size="25">σ</text>
<text transform="translate(33.3,180.6) rotate(-90) scale(0.94,1)" font-size="25">fm</text>
<text transform="translate(22.8,153.6) rotate(-90) scale(0.97,1.17)" font-size="20">2</text>
<path d="M11.4 181.6 L11.4 185.9 L38.5 185.9 L38.5 181.6 M11.4 140.4 L11.4 136 L38.5 136 L38.5 140.4" fill="none" stroke="#000" stroke-width="2.2"/>
</g></g>
</svg>
</body></html>
